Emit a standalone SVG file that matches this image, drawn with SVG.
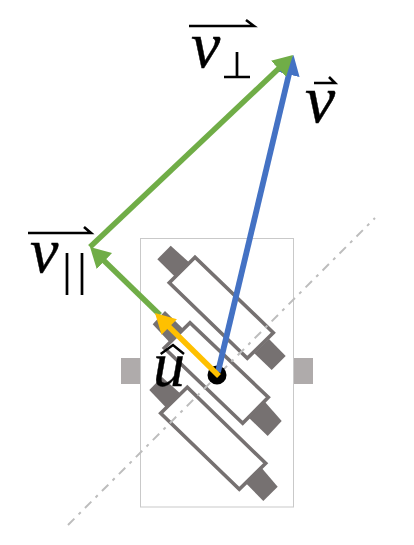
<svg xmlns="http://www.w3.org/2000/svg" width="414" height="545" viewBox="0 0 414 545">
<style>
.tab{fill:#767171}
.body{fill:#fff;stroke:#767171;stroke-width:3.6;stroke-linejoin:miter}
.side{fill:#afabab}
.m{font-family:"Liberation Serif","DejaVu Serif",serif;font-style:italic;fill:#000;stroke:#000;stroke-width:.4}
.bar{fill:none;stroke:#000;stroke-width:2.6}
</style>
<defs>
<marker id="g" markerUnits="userSpaceOnUse" markerWidth="24" markerHeight="24" refX="4" refY="11" orient="auto"><path d="M0 0L20 11L0 22z" fill="#70ad47"/></marker>
<marker id="b" markerUnits="userSpaceOnUse" markerWidth="24" markerHeight="24" refX="4" refY="11" orient="auto"><path d="M0 0L20 11L0 22z" fill="#4472c4"/></marker>
<marker id="y" markerUnits="userSpaceOnUse" markerWidth="24" markerHeight="24" refX="4" refY="11" orient="auto"><path d="M0 0L20 11L0 22z" fill="#ffc000"/></marker>
</defs>
<g id="frame"><rect x="140.5" y="238.500" width="153" height="268.500" fill="#fff" stroke="#c9c9c9" stroke-width="1"/></g>
<g id="side-left"><rect class="side" x="121" y="358" width="19" height="26"/></g>
<g id="side-right"><rect class="side" x="294" y="358" width="19" height="26"/></g>
<g id="wheel-top">
<polygon class="tab" points="170.7,245.7 157.3,259.3 175,276.7 189,262.3"/>
<polygon class="tab" points="269,339 285.7,356 271.7,370 254.3,353.3"/>
<polygon class="body" points="195,257.3 169.3,282.7 247.3,358.3 273.3,332.7"/>
</g>
<g id="wheel-middle">
<polygon class="tab" points="165,311 152.7,324.3 170,342.7 183.3,329"/>
<polygon class="tab" points="265,402 281.7,421 267.7,436 248.3,417.3"/>
<polygon class="body" points="190,322.7 164.3,348 242.7,423.3 268.3,397.3"/>
</g>
<g id="wheel-bottom">
<polygon class="tab" points="162,377 149.3,390 166.7,408.3 180,393.3"/>
<polygon class="tab" points="260,466 277.7,486.7 263.3,501 246,483.3"/>
<polygon class="body" points="187.3,387.3 160.7,413.3 239.3,489.3 265.7,463.3"/>
</g>
<g id="connectors" fill="none">
<path d="M68 525L375 218" stroke="#bdbdbd" stroke-width="2" stroke-dasharray="9 6 3 6"/>
<circle cx="217" cy="375" r="9.500" fill="#000"/>
<path d="M218 372L289.800 70.600" stroke="#4472c4" stroke-width="5.800" marker-end="url(#b)"/>
<path d="M90 247L281.400 66" stroke="#70ad47" stroke-width="5.500" marker-end="url(#g)"/>
<path d="M160 315L101.500 258.200" stroke="#70ad47" stroke-width="5.500" marker-end="url(#g)"/>
<path d="M219 376L166.400 324.200" stroke="#ffc000" stroke-width="5.500" marker-end="url(#y)"/>
</g>
<g id="label-v-perp">
<path class="bar" d="M189 26H254L246 20"/>
<text class="m" x="191" y="67" font-size="66">v</text>
<path d="M237 52V77M224 77H250" fill="none" stroke="#000" stroke-width="2.700"/>
</g>
<g id="label-v">
<path class="bar" d="M314 83H335L329 77"/>
<text class="m" x="305" y="122" font-size="68">v</text>
</g>
<g id="label-v-par">
<path class="bar" d="M28 233H91L84 227"/>
<text class="m" x="30" y="272" font-size="64">v</text>
<path d="M67 253V295M82 253V295" fill="none" stroke="#000" stroke-width="2.700"/>
</g>
<g id="label-u">
<path d="M160.700 354L173 345L184 354" fill="none" stroke="#000" stroke-width="2.400"/>
<text class="m" x="153" y="386" font-size="64">u</text>
</g>
</svg>
